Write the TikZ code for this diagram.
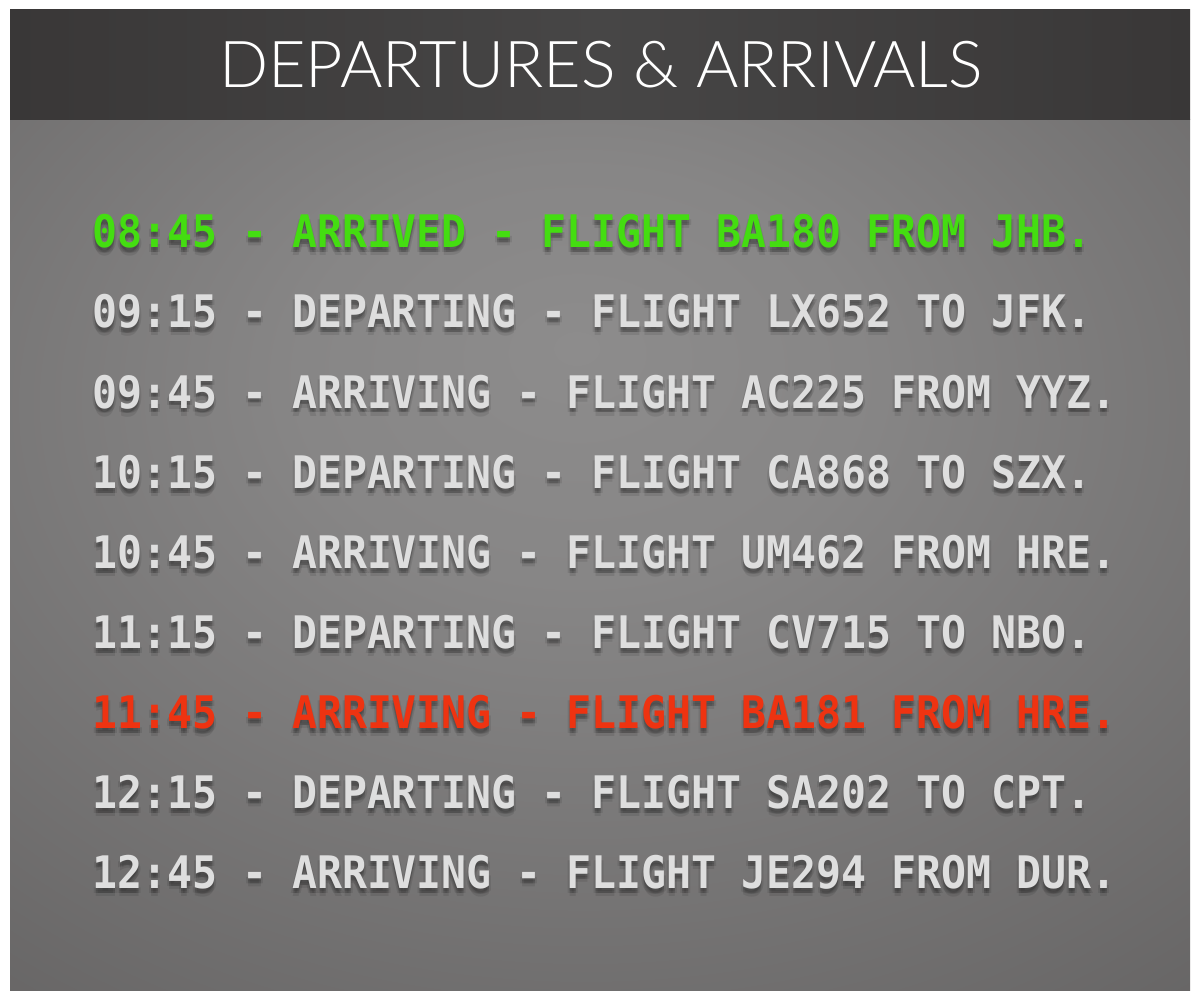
\documentclass[tikz,border=0pt]{standalone}
\usepackage{fontspec}
\newfontfamily\titlefont{Lato Light}
\newfontfamily\boardfont{DejaVu Sans Mono}[BoldFont={DejaVu Sans Mono Bold}]
\definecolor{hdrdark}{HTML}{393737}
\definecolor{hdrmid}{HTML}{474646}
\definecolor{bcenter}{HTML}{8D8C8C}
\definecolor{bedge}{HTML}{504E4E}
\definecolor{bcorner}{HTML}{424040}
\definecolor{rowwhite}{HTML}{DEDEDE}
\definecolor{rowgreen}{HTML}{44DD11}
\definecolor{rowred}{HTML}{EE3311}
\pgfdeclareradialshading{boardshade}{\pgfpoint{-1bp}{12bp}}{%
  color(0bp)=(bcenter); color(12bp)=(bcenter!90!bedge); color(62bp)=(bedge); color(85bp)=(bcorner)}
\tikzset{
  rowtext/.style={anchor=base west, inner sep=0pt, font=\boardfont\bfseries\fontsize{41.5}{41.5}\selectfont, yscale=1.08},
  rowshadow/.style={rowtext, text=black, text opacity=0.09},
}
% #1 row name, #2 baseline y, #3 colour, #4 full line
\newcommand{\boardrow}[4]{%
  \foreach \dx/\dy in {0/3,0/5,0/8,-2/5,2/5}{
    \node[rowshadow] at (92+\dx,#2+\dy) {#4};
  }
  \node[rowtext, text=#3] (#1) at (92,#2) {#4};
}
\begin{document}
\begin{tikzpicture}[x=1pt,y=-1pt]
\useasboundingbox (0,0) rectangle (1200,1000);
\fill[white] (0,0) rectangle (1200,1000);
% board body
\fill[shading=boardshade] (10,120) rectangle (1190,990);
% header
\fill[left color=hdrdark, right color=hdrdark, middle color=hdrmid] (10,10) rectangle (1190,120);
\node[anchor=base, inner sep=0pt, text=white, font=\titlefont\fontsize{64.7}{64.7}\selectfont] (title) at (601,88) {DEPARTURES \& ARRIVALS};
% rows
\boardrow{r1}{248}{rowgreen}{08:45 - ARRIVED - FLIGHT BA180 FROM JHB.}
\boardrow{r2}{328}{rowwhite}{09:15 - DEPARTING - FLIGHT LX652 TO JFK.}
\boardrow{r3}{408}{rowwhite}{09:45 - ARRIVING - FLIGHT AC225 FROM YYZ.}
\boardrow{r4}{488}{rowwhite}{10:15 - DEPARTING - FLIGHT CA868 TO SZX.}
\boardrow{r5}{568}{rowwhite}{10:45 - ARRIVING - FLIGHT UM462 FROM HRE.}
\boardrow{r6}{648}{rowwhite}{11:15 - DEPARTING - FLIGHT CV715 TO NBO.}
\boardrow{r7}{728}{rowred}{11:45 - ARRIVING - FLIGHT BA181 FROM HRE.}
\boardrow{r8}{808}{rowwhite}{12:15 - DEPARTING - FLIGHT SA202 TO CPT.}
\boardrow{r9}{888}{rowwhite}{12:45 - ARRIVING - FLIGHT JE294 FROM DUR.}
\end{tikzpicture}
\end{document}
